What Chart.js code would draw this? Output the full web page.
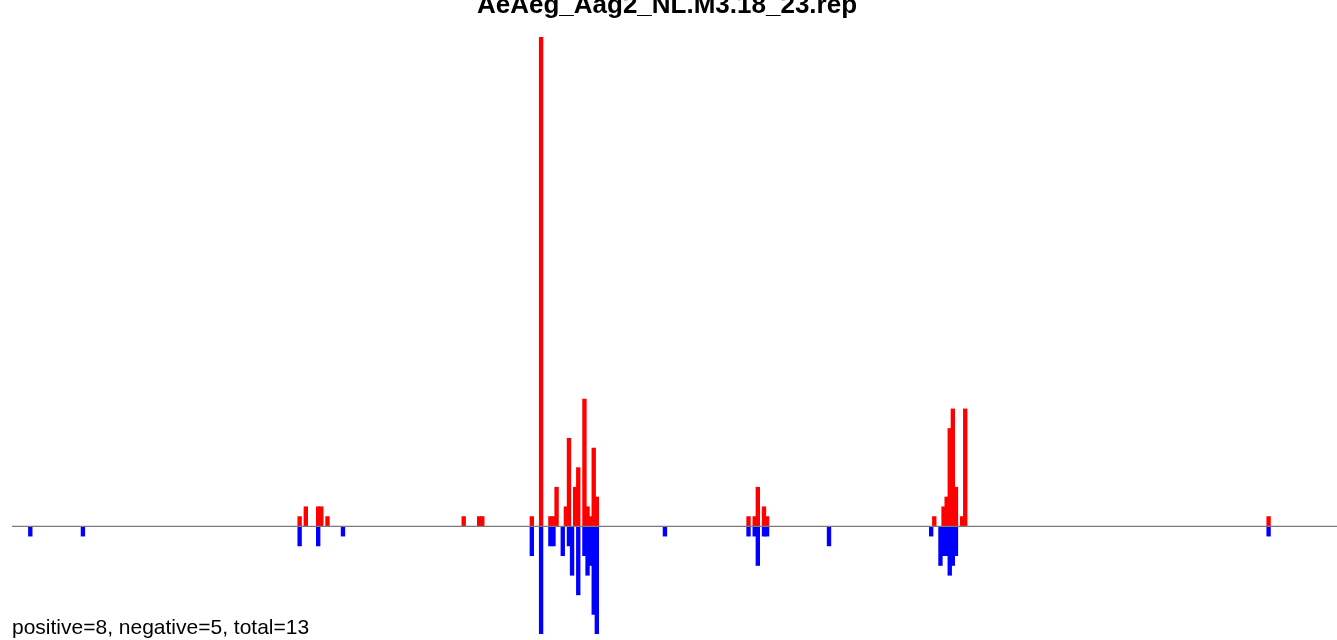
<!DOCTYPE html>
<html>
<head>
<meta charset="utf-8">
<title>AeAeg_Aag2_NL.M3.18_23.rep</title>
<script src="https://cdn.jsdelivr.net/npm/chart.js@4/dist/chart.umd.min.js"></script>
<style>
  html, body { margin: 0; padding: 0; background: #fff; }
  #wrap { width: 1337px; height: 640px; }
</style>
</head>
<body>
<div id="wrap"><canvas id="readChart" width="1337" height="640"></canvas></div>
<script>
const chartTitle = 'AeAeg_Aag2_NL.M3.18_23.rep';
const footerText = 'positive=8, negative=5, total=13';

// positions (bin index along the locus) and read counts
const plusPos = [87, 89, 93, 94, 96, 140, 145, 146, 162, 165, 168, 169, 170, 173, 174, 176, 177, 179, 180, 181, 182, 183,
  232, 234, 235, 237, 238, 292, 295, 296, 297, 298, 299, 301, 302, 400];
const plusVals = [1, 2, 2, 2, 1, 1, 1, 1, 1, 50, 1, 1, 4, 2, 9, 4, 6, 13, 2, 1, 8, 3,
  1, 1, 4, 2, 1, 1, 2, 3, 10, 12, 4, 1, 12, 1];

const minusPos = [0, 17, 87, 93, 101, 162, 165, 168, 169, 172, 174, 175, 177, 179, 180, 181, 182, 183,
  205, 232, 234, 235, 237, 238, 258, 291, 294, 295, 296, 297, 298, 299, 400];
const minusVals = [-1, -1, -2, -2, -1, -3, -11, -2, -2, -3, -2, -5, -7, -3, -5, -4, -9, -11,
  -1, -1, -1, -4, -1, -1, -2, -1, -4, -3, -3, -5, -4, -3, -1];

const xRange = [-5.91, 422.09];
const yRange = [-11, 50];

const toPoints = (pos, vals) => pos.map((p, i) => ({ x: p, y: vals[i] }));

// baseline, title and footer
const decorations = {
  id: 'decorations',
  beforeDraw(chart) {
    const ctx = chart.ctx;
    ctx.save();
    ctx.fillStyle = '#ffffff';
    ctx.fillRect(0, 0, chart.width, chart.height);
    ctx.restore();
  },
  afterDatasetsDraw(chart) {
    const ctx = chart.ctx;
    const area = chart.chartArea;
    const y0 = chart.scales.y.getPixelForValue(0);
    ctx.save();
    ctx.strokeStyle = '#7a7a7a';
    ctx.lineWidth = 1.3;
    ctx.beginPath();
    ctx.moveTo(area.left, y0);
    ctx.lineTo(chart.width, y0);
    ctx.stroke();
    ctx.restore();
  },
  afterDraw(chart) {
    const ctx = chart.ctx;
    ctx.save();
    ctx.fillStyle = '#000000';
    ctx.textBaseline = 'alphabetic';
    ctx.font = 'bold 26px "Liberation Sans", Arial, sans-serif';
    ctx.textAlign = 'center';
    ctx.fillText(chartTitle, 667, 13);
    ctx.font = '21px "Liberation Sans", Arial, sans-serif';
    ctx.textAlign = 'left';
    ctx.fillText(footerText, 12, 634);
    ctx.restore();
  }
};

new Chart(document.getElementById('readChart').getContext('2d'), {
  type: 'bar',
  data: {
    datasets: [
      {
        label: 'positive',
        data: toPoints(plusPos, plusVals),
        backgroundColor: '#ff0000',
        borderWidth: 0,
        barThickness: 3.7,
        grouped: false
      },
      {
        label: 'negative',
        data: toPoints(minusPos, minusVals),
        backgroundColor: '#0000ff',
        borderWidth: 0,
        barThickness: 3.7,
        grouped: false
      }
    ]
  },
  options: {
    responsive: false,
    animation: false,
    layout: { padding: { left: 12, right: 0, top: 37, bottom: 6 } },
    plugins: {
      legend: { display: false },
      title: { display: false },
      tooltip: { enabled: false }
    },
    scales: {
      x: { type: 'linear', min: xRange[0], max: xRange[1], offset: false, display: false },
      y: { min: yRange[0], max: yRange[1], display: false }
    }
  },
  plugins: [decorations]
});
</script>
</body>
</html>
